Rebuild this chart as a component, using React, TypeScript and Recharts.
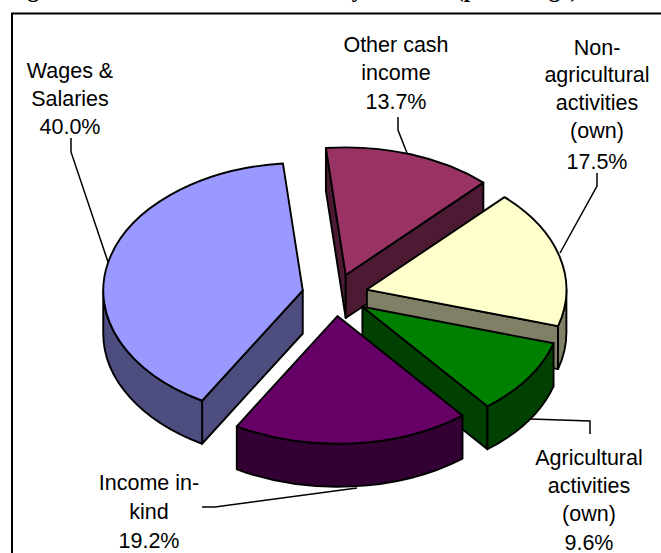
import { PieChart, Pie } from "recharts";

const sources = [
  "Wages & Salaries",
  "Other cash income",
  "Non-agricultural activities (own)",
  "Agricultural activities (own)",
  "Income in-kind",
];
const shares = [40.0, 13.7, 17.5, 9.6, 19.2];
const topColors = ["#9999FF", "#993366", "#FFFFCC", "#008000", "#660066"];
const sideColors = ["#4D4D80", "#4D1A33", "#808066", "#004000", "#330033"];

const labelLines = [
  ["Wages &", "Salaries", "40.0%"],
  ["Other cash", "income", "13.7%"],
  ["Non-", "agricultural", "activities", "(own)", "17.5%"],
  ["Agricultural", "activities", "(own)", "9.6%"],
  ["Income in-", "kind", "19.2%"],
];

// where the callouts sit, same order as the data
const labelX = [70, 396, 597, 589, 149];
const labelY = [
  [71, 99, 127],
  [45, 73, 102],
  [48, 75, 103, 131, 162],
  [458, 486, 514, 543],
  [483, 512, 541],
];
const leaders = [
  "108,262 71,152 71,138",
  "398,117 398,130 407,153",
  "597,173 597,186 560,253",
  "530,419 590,421 590,434",
  "202,507 215,507 357,488",
];

const data = sources.map((name, i) => ({ name, value: shares[i] }));

const SQUASH = 0.64;
const DEPTH = 43;
const EXPLODE = 33;
const RAD = Math.PI / 180;

function Slice3D(props: any) {
  const { cx, cy, outerRadius: r, startAngle, endAngle, index } = props;
  const i = index ?? data.findIndex((d) => d.name === props.name);
  const mid = (startAngle + endAngle) / 2;
  const ox = cx + EXPLODE * Math.cos(mid * RAD);
  const oy = cy - EXPLODE * SQUASH * Math.sin(mid * RAD);
  const ry = r * SQUASH;
  const pt = (a: number, drop = 0) =>
    `${ox + r * Math.cos(a * RAD)} ${oy - ry * Math.sin(a * RAD) + drop}`;
  const large = Math.abs(startAngle - endAngle) > 180 ? 1 : 0;

  const hi = Math.max(startAngle, endAngle);
  const lo = Math.min(startAngle, endAngle);

  const walls: string[] = [];
  if (Math.sin((hi + 90) * RAD) < 0) {
    walls.push(`M${ox} ${oy}L${pt(hi)}L${pt(hi, DEPTH)}L${ox} ${oy + DEPTH}Z`);
  }
  if (Math.sin((lo - 90) * RAD) < 0) {
    walls.push(`M${ox} ${oy}L${pt(lo)}L${pt(lo, DEPTH)}L${ox} ${oy + DEPTH}Z`);
  }

  // outer rim, only the part that faces the viewer
  const rims: string[] = [];
  [[180, 360], [-180, 0]].forEach(([a, b]) => {
    const from = Math.min(hi, b);
    const to = Math.max(lo, a);
    if (from > to) {
      rims.push(
        `M${pt(from)}A${r} ${ry} 0 0 1 ${pt(to)}L${pt(to, DEPTH)}A${r} ${ry} 0 0 0 ${pt(from, DEPTH)}Z`
      );
    }
  });

  const top = `M${ox} ${oy}L${pt(hi)}A${r} ${ry} 0 ${large} 1 ${pt(lo)}Z`;

  return (
    <g stroke="#000" strokeWidth={1.9} strokeLinejoin="round">
      {walls.map((d) => (
        <path key={d} d={d} fill={sideColors[i]} />
      ))}
      {rims.map((d) => (
        <path key={d} d={d} fill={sideColors[i]} />
      ))}
      <path d={top} fill={topColors[i]} />
    </g>
  );
}

function Callout({ index }: any) {
  return (
    <g>
      <polyline points={leaders[index]} fill="none" stroke="#000" strokeWidth={1.5} />
      {labelLines[index].map((line, k) => (
        <text
          key={line}
          x={labelX[index]}
          y={labelY[index][k]}
          textAnchor="middle"
          dominantBaseline="central"
          fontFamily="Liberation Sans"
          fontSize={21.5}
          fill="#000"
        >
          {line}
        </text>
      ))}
    </g>
  );
}

export default function App() {
  return (
    <div style={{ position: "absolute", left: 0, top: 0, width: 661, height: 553, overflow: "hidden", background: "#fff" }}>
      <svg width={661} height={553} style={{ position: "absolute", left: 0, top: 0 }}>
        <text y={-3} fontFamily="Liberation Serif" fontWeight="bold" fontSize={23} fill="#000">
          <tspan x={7}>Figure 6: Household income</tspan>
          <tspan x={339}>by source</tspan>
          <tspan x={456}>(percentage)</tspan>
        </text>
        <rect x={12} y={13.5} width={700} height={600} fill="#fff" stroke="#000" strokeWidth={2} />
      </svg>
      <div style={{ position: "absolute", left: 0, top: 0 }}>
        <PieChart width={661} height={553} margin={{ top: 0, right: 0, bottom: 0, left: 0 }}>
          <Pie
            data={data}
            dataKey="value"
            nameKey="name"
            cx={335}
            cy={295}
            innerRadius={0}
            outerRadius={199.5}
            startAngle={239.7}
            endAngle={-120.3}
            paddingAngle={0}
            shape={Slice3D}
            label={Callout}
            labelLine={false}
            isAnimationActive={false}
          />
        </PieChart>
      </div>
    </div>
  );
}
